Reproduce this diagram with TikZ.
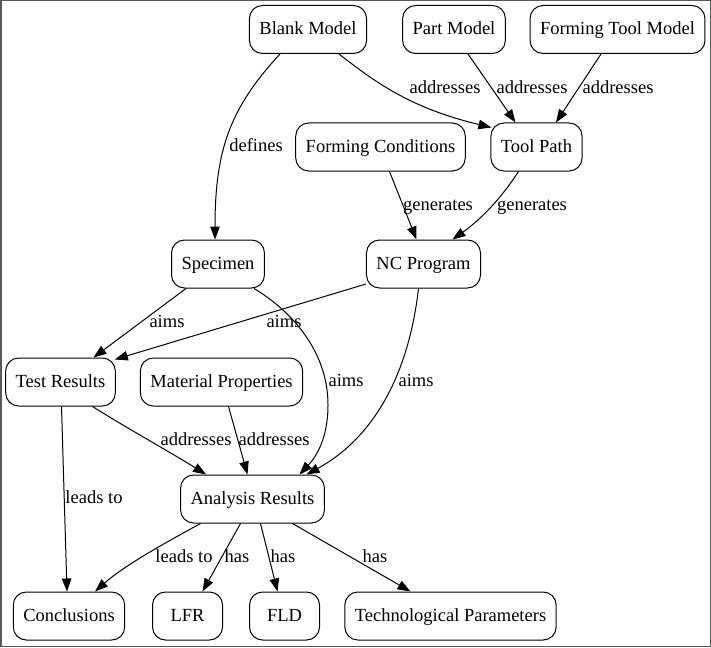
\documentclass[tikz,border=0pt]{standalone}
\usepackage{fontspec}
\setmainfont{Liberation Serif}
\usetikzlibrary{arrows.meta,calc}
\begin{document}
\begin{tikzpicture}[x=1pt,y=-1pt,
  box/.style={draw, line width=1pt, rounded corners=13pt, minimum height=48pt, minimum width=70pt, inner xsep=10pt, text height=13.5pt, text depth=2.5pt, font=\fontsize{18.5}{22}\selectfont},
  lbl/.style={inner sep=0pt, text height=13.5pt, text depth=2.5pt, font=\fontsize{18.5}{22}\selectfont},
  edge/.style={draw, line width=1pt, -{Triangle[length=13pt,width=9.5pt]}}]
\useasboundingbox (0,0) rectangle (711,647);
\draw[line width=1.5pt, black!65] (0.75,0.75) rectangle (710.25,646.25);
% nodes
\node[box] (bm) at (308,29.5) {Blank Model};
\node[box] (pm) at (454,29.5) {Part Model};
\node[box] (ftm) at (617.5,29.5) {Forming Tool Model};
\node[box] (tp) at (536.5,147) {Tool Path};
\node[box] (fc) at (380.5,147) {Forming Conditions};
\node[box] (nc) at (423.5,264) {NC Program};
\node[box] (sp) at (218,264) {Specimen};
\node[box] (tr) at (60.5,382) {Test Results};
\node[box] (mp) at (221.5,382) {Material Properties};
\node[box] (ar) at (252.5,499) {Analysis Results};
\node[box] (co) at (69,616) {Conclusions};
\node[box] (lfr) at (187.5,616) {LFR};
\node[box] (fld) at (284.5,616) {FLD};
\node[box] (tpar) at (450.5,616) {Technological Parameters};
% edges
\draw[edge] ($(bm.south)+(-28,0)$) .. controls (230,108) and (215,150) .. ($(sp.north)+(-3,0)$);
\draw[edge] ($(bm.south)+(31,0)$) .. controls (375,82) and (410,108) .. ($(tp.north west)+(1,5)$);
\draw[edge] ($(pm.south)+(14,0)$) -- ($(tp.north)+(-21,0)$);
\draw[edge] ($(ftm.south)+(-16.5,0)$) -- ($(tp.north)+(19.5,0)$);
\draw[edge] ($(fc.south)+(9,0)$) -- ($(nc.north)+(-7,0)$);
\draw[edge] ($(tp.south)+(-18,0)$) .. controls (500,200) and (480,220) .. ($(nc.north)+(29,0)$);
\draw[edge] ($(sp.south)+(-32,0)$) -- ($(tr.north)+(33,0)$);
\draw[edge] ($(nc.west)+(0,20)$) -- ($(tr.north east)+(-1,2)$);
\draw[edge] ($(sp.south)+(36,0)$) .. controls (290,310) and (328,350) .. (328,405) .. controls (328,440) and (315,458) .. ($(ar.north)+(47,0)$);
\draw[edge] ($(nc.south)+(-5,0)$) .. controls (408,380) and (370,440) .. ($(ar.north)+(54,0)$);
\draw[edge] ($(tr.south)+(32,0)$) .. controls (130,430) and (170,452) .. ($(ar.north west)+(26,0)$);
\draw[edge] ($(mp.south)+(7,0)$) -- ($(ar.north)+(-5,0)$);
\draw[edge] ($(tr.south)+(1,0)$) -- ($(co.north)+(-2,0)$);
\draw[edge] ($(ar.south)+(-52,0)$) .. controls (165,543) and (125,565) .. ($(co.north)+(26,0)$);
\draw[edge] ($(ar.south)+(-12,0)$) -- ($(lfr.north)+(15,0)$);
\draw[edge] ($(ar.south)+(8,0)$) -- ($(fld.north)+(-7,0)$);
\draw[edge] ($(ar.south)+(40,0)$) -- ($(tpar.north)+(-40,0)$);
% labels
\node[lbl] (l1) at (256,146) {defines};
\node[lbl] (l2) at (445,88) {addresses};
\node[lbl] (l3) at (532,88) {addresses};
\node[lbl] (l4) at (618,88) {addresses};
\node[lbl] (l5) at (438,205) {generates};
\node[lbl] (l6) at (532,205) {generates};
\node[lbl] (l7) at (167,322) {aims};
\node[lbl] (l8) at (284,322) {aims};
\node[lbl] (l9) at (346,381) {aims};
\node[lbl] (l10) at (416,381) {aims};
\node[lbl] (l11) at (196,440) {addresses};
\node[lbl] (l12) at (274,440) {addresses};
\node[lbl] (l13) at (94,498) {leads to};
\node[lbl] (l14) at (184,557) {leads to};
\node[lbl] (l15) at (237,557) {has};
\node[lbl] (l16) at (283,557) {has};
\node[lbl] (l17) at (375,557) {has};
\end{tikzpicture}
\end{document}
